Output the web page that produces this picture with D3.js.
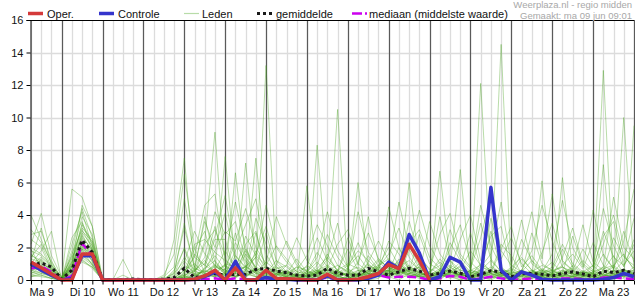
<!DOCTYPE html>
<html>
<head>
<meta charset="utf-8">
<script src="https://cdn.jsdelivr.net/npm/d3@7"></script>
<style>
body { margin: 0; background: #fff; }
svg { display: block; font-family: Arial, "Liberation Sans", sans-serif; }
</style>
</head>
<body>
<script>
(function(){

// time steps: every 6 hours, from ma 9 jun 06:00 up to di 24 jun 00:00 (60 steps)
var startTime = Date.UTC(2025, 5, 9, 6),
    stepHours = 6;

// day labels (placed at noon of each day)
var dayLabels = ["Ma 9", "Di 10", "Wo 11", "Do 12", "Vr 13", "Za 14", "Zo 15", "Ma 16",
                 "Di 17", "Wo 18", "Do 19", "Vr 20", "Za 21", "Zo 22", "Ma 23"];

var yTicks = [0, 2, 4, 6, 8, 10, 12, 14, 16];

var legendLabels = ["Oper.", "Controle", "Leden", "gemiddelde", "mediaan (middelste waarde)"];
var sourceText = "Weerplaza.nl - regio midden",
    madeText = "Gemaakt: ma 09 jun 09:01";

// operational run (10 days)
var oper = [1.1,0.75,0.37,
    0,0,1.6,1.6,  0,0,0,0,  0,0,0,0,
    0,0.05,0.25,0.6,  0,0.75,0,0,  0.6,0.1,0.08,0.05,  0,0,0.35,0,
    0,0.05,0.2,0.4,  0.95,0.7,2.2,1.2,  0];

// control run
var controle = [1.0,0.6,0.3,
    0,0.1,1.5,1.5,  0,0,0,0,  0,0,0,0,
    0,0.05,0.2,0.5,  0,1.15,0,0,  0.15,0.05,0.05,0,  0,0,0.25,0,
    0,0,0.1,0.3,  1.1,0.7,2.8,1.65,  0,0.2,1.4,1.1,
    0,0,5.7,0.6,  0,0.5,0.3,0.05,  0,0,0,0,  0,0.05,0.15,0.4,  0.2];

// ensemble mean
var gemiddelde = [0.9,1.05,0.8,
    0.05,0.6,2.45,1.7,  0.05,0.02,0.03,0.06,  0.02,0.02,0.05,0.15,
    0.72,0.15,0.25,0.4,  0.3,0.35,0.35,0.65,  0.72,0.55,0.45,0.3,  0.25,0.3,0.72,0.4,
    0.3,0.3,0.72,0.5,  0.3,0.5,0.72,0.55,  0.3,0.4,0.55,0.42,  0.2,0.35,0.57,0.5,
    0.2,0.4,0.4,0.35,  0.25,0.4,0.5,0.37,  0.2,0.55,0.45,0.6,  0.4];

// ensemble median
var mediaan = [0.7,0.85,0.5,
    0,0.25,2.25,1.5,  0,0,0,0,  0,0,0,0,
    0.05,0,0.05,0.1,  0,0.1,0.05,0.05,  0.1,0.05,0.05,0,  0,0.05,0.15,0.05,
    0,0.05,0.25,0.3,  0.15,0.2,0.2,0.15,  0,0.1,0.25,0.2,  0,0.1,0.2,0.1,
    0,0.05,0.1,0.05,  0,0.1,0.1,0.05,  0,0.15,0.15,0.1,  0.05];

// ensemble members
var leden = [
 [0.6,0.9,0.4, 0.0,0.5,2.1,1.4, 0,0,0,0, 0,0,0.1,0.4, 1.2,0.3,0.5,0.8, 0.6,0.2,0.9,0.4, 0.3,0.1,0.0,0.2, 0.5,1.1,0.4,0.0, 0.0,0.2,0.6,0.9, 1.3,0.8,0.5,0.2, 0.0,0.3,0.8,0.4, 0.1,0.6,1.2,0.5, 0.2,0.0,0.3,0.7, 0.4,0.2,0.1,0.5, 0.9,0.3,0.2,0.6, 0.4],
 [1.5,1.2,0.5, 0.1,0.8,2.6,1.9, 0,0,0,0, 0,0,0,2.5, 7.5,0.6,0.2,0.9, 0.4,1.5,0.7,0.2, 0.0,0.0,0.3,0.8, 0.2,0.4,1.6,0.5, 0.1,0.0,0.3,1.2, 0.8,0.4,2.1,0.9, 0.2,0.0,0.5,1.1, 0.4,0.2,0.0,0.3, 0.8,1.4,0.6,0.2, 0.0,0.3,0.9,0.4, 0.2,0.6,1.5,0.3, 0.8],
 [0.3,0.5,0.2, 0.0,1.2,3.4,2.2, 0.1,0,0,0, 0,0,0.3,1.6, 6.5,2.0,0.4,0.3, 0.0,0.5,1.8,0.6, 0.2,0.4,0.2,0.0, 0.0,0.3,0.8,10.5, 0.4,0.2,0.0,0.1, 0.6,1.1,0.4,0.3, 0.0,0.5,0.2,0.0, 0.3,1.0,0.6,0.2, 0.0,0.2,0.4,0.3, 0.5,0.8,0.3,0.1, 0.0,0.4,0.9,1.6, 0.6],
 [4.0,2.5,1.0, 0.0,0.6,1.8,1.2, 0,0,0,0, 0,0,0,0.2, 0.9,0.5,2.4,9.1, 0.8,0.2,0.6,1.4, 0.5,0.2,0.0,0.0, 0.3,0.6,0.2,0.4, 0.7,0.3,1.5,0.6, 0.2,0.0,0.4,0.8, 0.2,0.6,0.3,0.1, 0.0,0.4,0.8,0.3, 0.1,0.5,1.2,0.4, 0.3,0.0,0.2,0.6, 0.2,0.1,0.0,0.3, 0.1],
 [2.2,4.1,1.5, 0.2,0.9,4.6,3.3, 0,0,0,0, 0,0,0,0.5, 3.2,0.8,0.3,0.6, 7.6,0.9,0.2,0.5, 1.1,0.6,0.2,0.0, 0.1,0.4,0.7,0.3, 0.0,0.6,0.2,0.5, 0.9,0.6,0.3,0.1, 0.4,1.3,0.6,0.2, 0.0,0.1,0.6,14.5, 0.3,0.0,0.5,0.9, 0.6,0.3,0.2,0.1, 0.0,0.3,0.6,0.4, 0.2],
 [1.0,1.8,3.0, 0.0,0.4,2.0,1.6, 0,0,0,0, 0,0,0,0, 0.4,1.9,3.0,0.7, 0.2,6.6,1.4,0.5, 0.0,0.0,0.2,0.4, 0.6,0.3,0.1,0.0, 0.2,0.4,0.9,0.6, 0.3,0.8,0.5,1.0, 0.2,0.1,0.4,0.9, 0.3,0.0,0.2,0.5, 0.6,0.3,0.1,6.1, 0.4,0.2,0.0,0.2, 0.5,0.8,0.3,0.2, 0.4],
 [0.8,0.6,0.3, 0.0,0.7,1.5,1.0, 0,0,0,0, 0,0,0,0.1, 0.3,0.0,0.8,2.5, 2.5,0.4,7.2,1.1, 0.4,0.2,0.1,0.3, 0.2,0.5,0.3,0.1, 0.0,0.3,0.2,0.8, 0.5,2.0,0.6,0.2, 0.0,0.4,0.6,0.3, 0.5,0.2,0.1,0.4, 0.2,0.6,0.3,0.2, 0.0,6.3,0.5,0.3, 0.2,0.0,0.4,0.7, 0.3],
 [2.5,2.0,0.6, 0.1,1.5,3.9,2.8, 0,0,0,0, 0,0,0,0.3, 2.0,0.5,0.4,0.2, 0.3,0.1,0.6,7.5, 0.9,0.3,0.6,0.2, 0.1,0.2,0.5,0.3, 0.4,6.0,0.8,0.2, 0.3,0.5,0.4,0.6, 0.0,0.2,0.3,0.5, 0.2,0.6,0.4,0.3, 0.1,0.0,0.2,0.5, 0.3,0.5,0.7,0.2, 0.0,0.2,0.3,0.6, 0.5],
 [1.2,3.2,0.9, 0.0,2.2,4.2,2.0, 0,0,0,0, 0,0,0,0, 0.2,0.1,0.7,1.5, 0.6,0.3,0.2,0.8, 13.2,1.0,0.4,0.3, 0.5,0.3,0.2,0.6, 0.2,0.0,0.4,0.3, 0.8,0.5,0.4,0.3, 0.5,0.9,0.3,0.0, 0.2,0.4,0.2,0.1, 0.0,0.3,0.6,0.2, 0.4,0.2,0.8,0.3, 0.1,12.9,0.3,0.4, 0.2],
 [0.5,1.0,0.7, 0.0,0.3,2.4,1.3, 0,0,0,0, 0,0,0,0, 0.1,0.6,1.2,0.4, 0.9,0.5,0.3,1.8, 0.6,0.4,0.2,0.0, 5.8,0.6,0.3,0.2, 0.1,0.4,1.0,0.5, 0.2,0.3,6.0,0.9, 0.4,0.2,0.5,0.3, 0.0,0.2,0.4,0.6, 0.3,0.2,0.1,0.4, 0.2,0.0,0.3,0.5, 0.4,0.2,0.6,10.0, 0.7],
 [0.7,0.9,0.5, 0.0,1.0,2.8,1.7, 0,0,0,0, 0,0,0,0, 0.0,0.2,0.3,0.6, 1.8,0.7,0.4,0.2, 0.3,0.5,0.2,0.1, 0.0,8.3,0.6,0.2, 0.1,0.3,0.5,0.7, 0.4,0.9,0.3,0.2, 0.2,0.4,0.7,6.8, 0.3,0.2,0.1,0.4, 0.0,0.5,0.3,0.1, 0.2,0.4,0.6,0.2, 0.3,0.5,0.2,0.1, 9.5],
 [0.4,0.8,0.6, 0.2,0.6,1.9,0.9, 0.1,0,0,0, 0,0,0,0, 0.2,0.0,0.4,1.0, 0.5,0.8,2.2,3.0, 0.7,0.4,0.0,0.1, 0.3,0.1,0.4,0.6, 0.2,0.5,0.3,0.4, 0.6,0.2,0.8,0.5, 0.0,6.7,1.2,0.3, 0.2,0.0,0.3,0.5, 0.4,0.2,0.6,0.3, 0.1,0.3,0.2,0.4, 0.3,7.1,0.5,0.2, 0.4],
 [1.8,1.5,0.8, 0.0,5.6,5.1,3.3, 0.1,0,0,0, 0,0,0,0.1, 0.6,0.4,0.2,0.3, 0.4,0.6,0.8,0.5, 0.2,0.3,0.6,0.2, 0.1,0.4,0.2,0.3, 0.0,0.2,0.6,1.3, 0.7,0.6,0.4,0.2, 0.3,0.5,0.2,0.4, 0.1,0.3,0.5,0.6, 0.5,0.3,0.2,0.4, 0.2,0.6,0.4,0.1, 0.0,0.3,0.5,0.6, 0.4],
 [0.9,1.4,0.7, 0.0,1.8,4.4,2.6, 0,0,0.1,0, 0,0,0,0, 0.0,0.1,0.3,0.2, 0.5,0.2,0.4,0.6, 0.3,0.7,0.9,0.4, 0.2,0.5,0.6,0.3, 0.4,0.3,0.2,0.5, 0.6,0.4,0.3,0.2, 0.0,0.6,0.4,0.2, 0.0,12.1,0.9,0.4, 0.2,0.1,0.3,0.5, 0.3,0.4,0.2,0.1, 0.2,0.6,0.4,0.3, 0.2],
 [0.2,0.4,0.3, 0.0,0.9,2.2,1.1, 0,0,1.27,0, 0,0,0,0.4, 3.5,0.7,0.5,0.6, 0.9,0.4,1.6,0.8, 0.5,0.3,0.2,0.1, 0.4,0.7,1.4,0.6, 0.2,0.1,0.5,0.3, 0.4,0.6,0.2,0.3, 0.1,0.2,0.4,0.6, 0.5,0.3,0.2,0.1, 0.2,0.4,0.3,0.2, 0.1,0.2,0.5,0.4, 0.6,0.3,0.2,0.5, 0.3],
 [3.1,2.3,1.1, 0.1,1.1,3.0,2.4, 0,0,0.3,0, 0,0,0,0, 0.4,2.2,2.5,1.7, 1.2,0.6,0.8,0.4, 0.2,0.0,0.1,0.3, 0.4,0.2,0.3,0.6, 1.0,0.7,0.4,0.3, 0.2,0.5,0.9,0.4, 0.3,0.2,0.5,0.3, 0.2,0.4,0.6,0.3, 0.4,0.6,0.2,0.1, 0.3,0.1,0.2,0.4, 0.2,0.1,0.3,0.5, 0.6],
 [0.6,0.7,0.2, 0.0,0.4,1.2,0.8, 0,0,0,0, 0,0,0.2,0.8, 5.0,1.4,0.9,0.5, 0.3,0.4,0.2,0.6, 0.8,0.5,0.3,0.2, 0.0,0.1,0.2,0.4, 0.3,0.6,0.4,0.2, 0.5,0.3,0.6,0.8, 0.2,0.4,0.1,0.3, 0.6,0.4,0.3,0.2, 0.0,0.3,0.4,0.2, 0.5,0.4,0.2,0.3, 0.1,0.4,0.8,0.3, 0.2],
 [1.3,1.1,0.6, 0.0,2.6,3.6,1.8, 0,0,0,0, 0,0,0,0, 0.2,0.3,0.2,0.4, 1.0,0.8,0.5,2.9, 0.6,0.3,0.4,0.2, 0.1,0.5,0.3,0.2, 0.5,0.2,0.3,0.6, 2.4,1.6,0.7,0.3, 0.4,0.3,0.2,0.5, 0.3,0.2,0.4,0.2, 0.1,0.4,0.3,0.6, 0.2,0.3,0.1,0.2, 0.4,0.2,0.6,0.3, 0.5],
 [0.4,0.6,0.3, 0.0,0.2,1.4,0.9, 0,0,0,0, 0,0,0,0, 0.0,0.3,0.6,0.3, 0.4,0.2,0.5,0.6, 0.5,0.8,0.4,0.2, 0.0,0.3,0.6,0.5, 0.2,0.4,0.3,0.5, 0.6,0.3,0.2,0.5, 0.3,0.7,0.5,0.2, 0.4,0.6,0.3,0.5, 0.3,0.2,0.5,0.4, 0.6,0.3,0.4,0.2, 0.4,0.5,0.3,0.6, 0.3],
 [2.0,1.6,0.9, 0.2,1.4,2.5,1.5, 0,0,0,0, 0,0,0,0.6, 1.9,0.2,0.7,1.2, 0.4,1.0,0.6,0.3, 0.2,0.1,0.4,0.8, 0.6,0.2,0.1,0.3, 0.4,0.2,0.5,0.9, 0.5,0.8,1.2,0.6, 0.1,0.3,0.2,0.4, 0.3,0.5,0.4,0.2, 0.5,0.3,0.1,0.2, 0.4,0.6,0.3,0.5, 0.2,0.4,0.1,0.3, 0.4],
 [0.8,1.2,0.4, 0.0,0.6,2.9,2.1, 0,0,0,0, 0,0,0,0, 0.1,0.0,0.2,0.5, 0.3,0.2,0.4,0.2, 0.4,0.6,0.3,0.1, 0.2,0.4,0.5,0.3, 0.6,0.3,0.4,0.2, 0.3,0.5,0.3,0.2, 0.5,0.4,0.6,0.3, 0.2,0.3,0.5,0.4, 0.3,0.6,0.4,0.2, 0.4,0.2,0.3,0.5, 0.3,0.2,0.4,0.2, 0.1],
 [1.1,0.8,0.5, 0.0,1.3,3.2,2.5, 0,0,0,0, 0,0,0,0.1, 0.6,1.0,0.4,0.2, 0.7,2.3,1.1,0.4, 0.2,0.4,0.5,0.3, 0.3,0.6,0.4,0.2, 0.1,0.3,0.6,0.4, 0.3,0.4,0.6,0.5, 0.2,0.4,0.3,0.2, 0.6,0.4,0.2,0.3, 0.2,0.4,0.5,0.3, 0.3,0.5,0.4,0.2, 0.5,0.3,0.2,0.4, 0.3],
 [0.5,0.3,0.1, 0.0,0.8,2.0,1.2, 0,0,0,0, 0,0,0,0, 0.3,0.5,1.4,4.2, 2.8,3.6,1.2,0.5, 0.4,0.9,2.4,1.1, 0.3,0.5,0.8,0.4, 0.9,1.8,1.2,0.6, 4.5,2.0,0.8,0.4, 0.2,0.6,1.9,3.4, 1.1,0.5,3.0,0.7, 0.4,2.5,1.2,0.6, 0.3,1.4,3.2,1.0, 0.5,2.2,4.0,1.5, 0.7],
 [0.9,0.5,0.2, 0.0,0.5,1.6,1.0, 0,0,0,0, 0,0,0,0, 0.2,0.8,3.6,2.0, 4.1,1.2,0.6,3.8, 2.2,0.8,0.4,0.6, 1.5,3.4,2.1,0.9, 0.5,0.3,1.1,2.4, 1.2,0.8,3.6,1.5, 0.6,2.8,4.1,1.6, 0.8,3.5,1.3,0.5, 0.2,0.6,1.8,4.6, 2.4,0.8,0.5,1.2, 0.6,3.0,1.4,0.9, 1.8],
 [1.6,1.0,0.4, 0.0,0.7,2.3,1.7, 0,0,0,0, 0,0,0,0, 0.5,1.4,4.6,5.3, 1.3,0.6,2.7,1.5, 0.9,2.1,1.3,0.5, 0.8,2.6,1.2,0.6, 1.9,0.6,0.4,0.8, 1.6,3.2,1.4,0.6, 0.5,1.1,0.6,2.5, 4.0,1.2,0.5,2.2, 1.5,0.4,2.9,1.0, 0.6,1.9,0.8,3.4, 1.1,0.6,2.6,1.4, 0.9],
 [0.3,0.2,0.1, 0.0,0.5,1.1,0.8, 0,0,0,0, 0,0,0,0, 0.0,0.2,0.6,1.8, 3.0,2.4,4.4,2.0, 1.0,3.9,2.2,0.9, 0.5,1.4,4.2,1.8, 0.8,1.5,0.6,0.4, 0.5,0.6,2.2,3.1, 1.4,0.7,0.5,0.8, 2.9,0.8,1.6,4.8, 0.9,0.5,0.3,1.7, 3.5,1.2,0.6,0.3, 0.9,4.4,2.1,0.8, 2.5],
 [2.8,3.0,1.2, 0.0,1.0,3.5,2.3, 0,0,0,0, 0,0,0,0, 0.1,0.3,2.2,3.1, 1.5,4.8,2.0,0.7, 0.5,0.3,0.9,2.6, 1.2,0.5,0.7,2.2, 3.1,1.0,0.5,0.8, 0.4,1.3,0.7,0.3, 3.6,1.6,0.8,0.4, 0.2,0.7,3.8,1.3, 2.6,1.0,0.4,0.6, 1.1,0.4,2.7,0.9, 0.3,0.8,5.1,2.0, 1.3],
 [0.6,0.4,0.2, 0.0,0.9,1.9,1.4, 0,0,0,0, 0,0,0,0, 1.1,3.0,1.6,0.9, 0.4,1.8,3.4,5.0, 1.6,0.5,0.3,0.2, 0.3,0.9,2.8,1.4, 0.6,4.2,1.7,0.9, 2.0,0.9,0.6,1.4, 0.7,0.4,2.3,1.2, 0.5,4.6,2.1,0.8, 0.3,1.3,0.6,0.4, 0.8,2.2,1.0,0.5, 0.4,1.6,0.7,3.0, 1.1],
 [1.4,2.2,0.8, 0.0,1.6,3.1,1.9, 0,0,0,0, 0,0,0,0, 0.3,0.6,1.0,2.7, 5.2,1.5,0.8,1.4, 4.6,2.0,1.1,0.5, 0.4,0.6,0.9,0.5, 0.3,1.1,2.9,1.3, 0.7,0.4,1.8,4.3, 2.1,1.0,0.5,0.3, 0.6,0.9,0.4,1.9, 3.3,0.8,1.5,0.6, 0.5,0.9,1.6,0.7, 2.3,0.9,0.5,1.2, 3.8],
 [0.2,0.3,0.1, 0.0,0.3,1.3,0.7, 0,0,0,0, 0,0,0,0, 0.0,0.4,0.5,0.9, 0.6,0.4,0.3,0.7, 0.4,1.2,0.8,0.3, 0.2,0.5,0.6,0.9, 0.5,0.8,0.4,0.3, 0.6,1.0,0.5,0.4, 0.3,0.5,0.9,0.6, 0.4,0.8,0.6,0.3, 0.7,0.4,0.2,0.5, 0.6,0.8,0.4,0.3, 0.5,0.7,0.9,0.4, 0.6],
 [0.7,1.3,0.6, 0.0,0.8,2.7,1.8, 0,0,0,0, 0,0,0,0, 0.2,1.6,0.9,3.3, 0.8,0.5,1.9,0.7, 2.9,0.6,0.4,1.3, 0.5,1.7,0.8,0.4, 2.6,0.9,3.9,1.1, 0.6,1.2,0.5,2.8, 1.0,0.6,3.1,1.4, 0.7,2.6,5.2,1.8, 0.9,3.7,1.0,0.5, 1.6,4.9,2.0,0.8, 4.3,1.5,0.7,2.4, 5.6],
 [1.9,0.7,0.3, 0.0,1.1,2.2,1.6, 0,0,0,0, 0,0,0,0.2, 1.4,0.6,3.9,1.1, 0.5,2.9,0.8,1.6, 3.3,1.2,0.5,0.3, 0.9,0.4,1.3,3.5, 0.7,2.3,0.9,0.5, 1.1,4.8,1.9,0.7, 0.4,3.9,1.2,0.6, 1.8,0.9,2.7,3.3, 0.5,1.6,4.2,1.3, 5.3,1.1,0.6,1.9, 0.8,2.7,3.6,0.9, 2.2]
];

// chart dimensions
var width = 635,
    height = 300,
    plotLeft = 30,
    plotRight = 634,
    plotTop = 20,
    plotBottom = 280;

function timeAt(i){
    return new Date(startTime + i * stepHours * 3600 * 1000);
}

var svg = d3.select("body")
    .append("svg")
    .attr("width", width)
    .attr("height", height);

var x = d3.scaleUtc()
    .domain([timeAt(0), timeAt(leden[0].length - 1)])
    .range([plotLeft + 1, plotRight]);

var y = d3.scaleLinear()
    .domain([0, 16])
    .range([plotBottom, plotTop]);

var sixHours = d3.utcHour.every(6).range(timeAt(0), new Date(+timeAt(59) + 1));
var midnights = d3.utcDay.range(timeAt(0), new Date(+timeAt(59) + 1));
var noons = dayLabels.map(function(d, i){ return new Date(Date.UTC(2025, 5, 9 + i, 12)); });

// light grid
var grid = svg.append("g").attr("class", "grid");
grid.selectAll(".vgrid")
    .data(sixHours)
    .enter()
    .append("line")
    .attr("x1", function(d){ return Math.round(x(d)) + 0.5; })
    .attr("x2", function(d){ return Math.round(x(d)) + 0.5; })
    .attr("y1", plotTop)
    .attr("y2", plotBottom)
    .attr("stroke", "#dcdcdc")
    .attr("stroke-width", 1.3);
grid.selectAll(".hgrid")
    .data(yTicks.slice(1, -1))
    .enter()
    .append("line")
    .attr("x1", plotLeft)
    .attr("x2", plotRight)
    .attr("y1", function(d){ return Math.round(y(d)) + 0.5; })
    .attr("y2", function(d){ return Math.round(y(d)) + 0.5; })
    .attr("stroke", "#dcdcdc")
    .attr("stroke-width", 1.3);

// day separators
grid.selectAll(".day")
    .data(midnights)
    .enter()
    .append("line")
    .attr("x1", function(d){ return Math.round(x(d)) + 0.5; })
    .attr("x2", function(d){ return Math.round(x(d)) + 0.5; })
    .attr("y1", plotTop)
    .attr("y2", plotBottom)
    .attr("stroke", "#5a5a5a")
    .attr("stroke-width", 1.2);

var line = d3.line()
    .x(function(d, i){ return x(timeAt(i)); })
    .y(function(d){ return y(d); });

// members
svg.append("g")
    .selectAll("path")
    .data(leden)
    .enter()
    .append("path")
    .attr("d", line)
    .attr("fill", "none")
    .attr("stroke", "rgb(72,162,30)")
    .attr("stroke-opacity", 0.38)
    .attr("stroke-width", 1);

// median
svg.append("path")
    .attr("d", line(mediaan))
    .attr("fill", "none")
    .attr("stroke", "#cc00ee")
    .attr("stroke-width", 2.5)
    .attr("stroke-dasharray", "9,4");

// mean
svg.append("path")
    .attr("d", line(gemiddelde))
    .attr("fill", "none")
    .attr("stroke", "#1a1a1a")
    .attr("stroke-width", 3)
    .attr("stroke-dasharray", "3,3");

// control
svg.append("path")
    .attr("d", line(controle))
    .attr("fill", "none")
    .attr("stroke", "#3535cc")
    .attr("stroke-width", 3.5)
    .attr("stroke-linejoin", "round");

// operational
svg.append("path")
    .attr("d", line(oper))
    .attr("fill", "none")
    .attr("stroke", "#d43a3a")
    .attr("stroke-width", 3.5)
    .attr("stroke-linejoin", "round");

// axes
var yAxis = svg.append("g")
    .attr("transform", "translate(" + (plotLeft + 0.5) + ",0)")
    .call(d3.axisLeft(y).tickValues(yTicks).tickSize(4).tickPadding(3));

var xTicks = svg.append("g")
    .attr("transform", "translate(0," + (plotBottom + 0.5) + ")")
    .call(d3.axisBottom(x).tickValues(sixHours).tickSize(4).tickFormat(""));
xTicks.select(".domain").attr("d", "M" + plotLeft + ",0H" + plotRight);

var xLabels = svg.append("g")
    .attr("transform", "translate(0," + plotBottom + ")")
    .call(d3.axisBottom(x).tickValues(noons).tickSize(0).tickPadding(8)
        .tickFormat(function(d, i){ return dayLabels[i]; }));
xLabels.select(".domain").remove();

svg.selectAll(".tick text")
    .attr("font-size", 11)
    .attr("font-family", "Arial, 'Liberation Sans', sans-serif")
    .attr("fill", "#111");
svg.selectAll(".tick line, .domain").attr("stroke", "#000");

// top border
svg.append("line")
    .attr("x1", plotLeft)
    .attr("x2", plotRight)
    .attr("y1", plotTop + 0.5)
    .attr("y2", plotTop + 0.5)
    .attr("stroke", "#000");

// legend
var legendX = [28, 99, 184, 257, 352],
    legendTextX = [47, 118, 202, 276, 369],
    legendY = 13.5;
var legend = svg.append("g").attr("class", "legend");
legendLabels.forEach(function(label, i){
    var g = legend.append("g");
    var ln = g.append("line")
        .attr("x1", legendX[i])
        .attr("x2", legendX[i] + 15)
        .attr("y1", legendY)
        .attr("y2", legendY);
    if (i == 0) ln.attr("stroke", "#d43a3a").attr("stroke-width", 3.5);
    if (i == 1) ln.attr("stroke", "#3535cc").attr("stroke-width", 3.5);
    if (i == 2) ln.attr("stroke", "#b8dca8").attr("stroke-width", 1.2);
    if (i == 3) ln.attr("stroke", "#1a1a1a").attr("stroke-width", 3).attr("stroke-dasharray", "3,3");
    if (i == 4) ln.attr("stroke", "#cc00ee").attr("stroke-width", 2.5).attr("stroke-dasharray", "10,3,2,10");
    g.append("text")
        .attr("x", legendTextX[i])
        .attr("y", 17.5)
        .attr("font-size", 11)
        .attr("fill", "#111")
        .text(label);
});

// source text
svg.append("text")
    .attr("x", 632)
    .attr("y", 8)
    .attr("text-anchor", "end")
    .attr("font-size", 9.5)
    .attr("fill", "#a8a8a8")
    .text(sourceText);
svg.append("text")
    .attr("x", 632)
    .attr("y", 19)
    .attr("text-anchor", "end")
    .attr("font-size", 9.5)
    .attr("fill", "#a8a8a8")
    .text(madeText);

})();
</script>
</body>
</html>
